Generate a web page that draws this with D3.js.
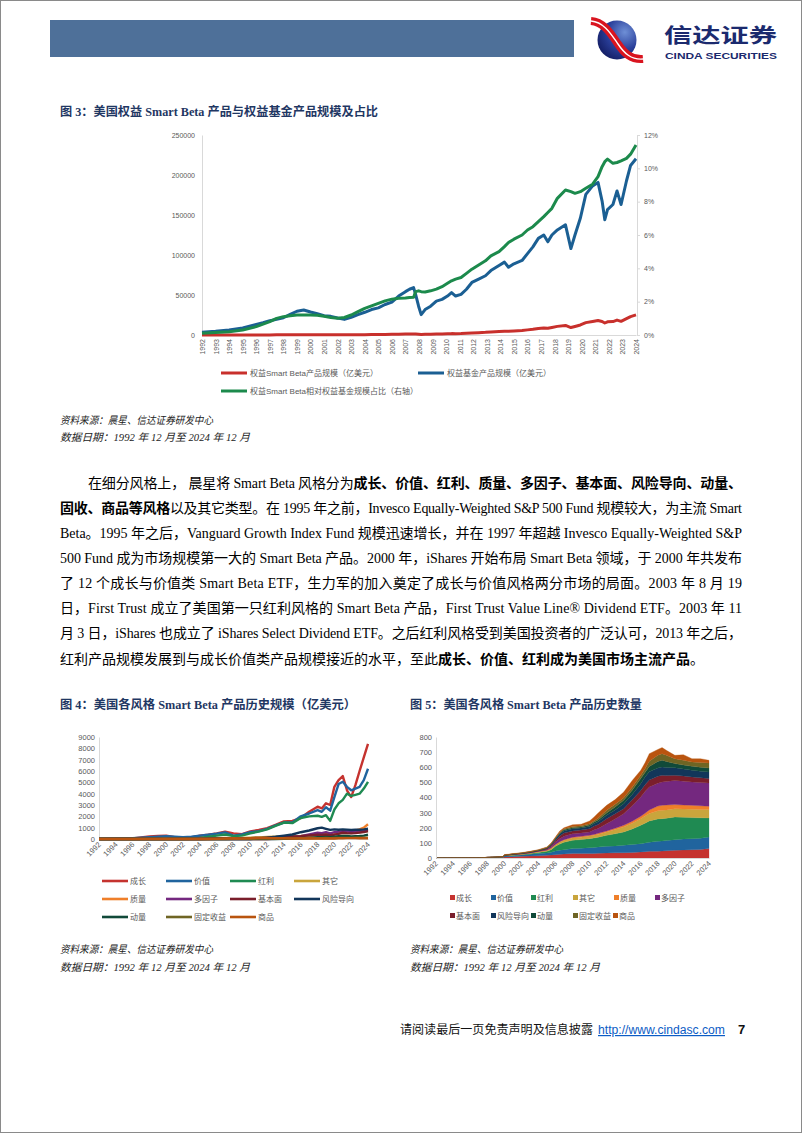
<!DOCTYPE html>
<html><head><meta charset="utf-8">
<script src="https://cdn.jsdelivr.net/npm/d3@7"></script>
<style>body{margin:0;background:#fff}svg{display:block}</style>
</head><body>
<svg id="page" width="802" height="1133"></svg>
<script>
// ---------------- DATA ----------------
// Figure 3
const f3Names = ["权益Smart Beta产品规模（亿美元）","权益基金产品规模（亿美元）","权益Smart Beta相对权益基金规模占比（右轴）"];
const f3Years = [1992,1993,1994,1995,1996,1996.5,1997,1997.5,1998,1998.5,1999,1999.5,2000,2000.5,2001,2001.5,2002,2002.5,2003,2003.5,2004,2004.5,2005,2005.5,2006,2006.5,2007,2007.3,2007.6,2007.75,2007.97,2008.16,2008.45,2008.86,2009.28,2009.7,2010.1,2010.4,2010.7,2011.1,2011.5,2011.9,2012.4,2012.9,2013.3,2013.9,2014.3,2014.6,2015.0,2015.6,2016.0,2016.4,2016.8,2017.2,2017.5,2017.8,2018.2,2018.8,2019.2,2019.5,2019.9,2020.3,2020.8,2021.2,2021.5,2021.7,2021.9,2022.3,2022.6,2022.9,2023.3,2023.6,2024.0];
const smartBetaAUM = [20,30,40,60,90,100,140,190,230,290,350,370,350,320,270,245,210,205,260,350,450,560,640,780,880,1070,1200,1290,1350,1320,950,660,820,950,1170,1290,1510,1720,1630,1750,2120,2600,2940,3300,3820,4350,4830,4700,5120,5590,6400,7160,8200,8880,8560,9500,10770,11980,9290,10630,12570,15470,16870,18120,16900,14990,16540,16800,18640,17040,20440,22990,25100];
const equityFundAUM = [3400,4700,6400,8900,13100,15300,17800,19500,21600,25800,29700,31300,28800,26700,24200,23300,21200,19500,22000,25400,28400,31800,33900,38100,41100,48700,54200,57200,59300,50800,36000,25400,31800,36000,42400,44500,48700,53000,48700,50800,57200,65700,69900,74100,80500,86900,91100,84700,89000,93200,101700,110200,120800,125000,116500,125000,131300,137700,108000,125000,146200,175800,186400,190700,167400,144100,156800,163100,180100,163100,192800,211900,220300];
const shareRatio = [0.10,0.15,0.20,0.30,0.50,0.65,0.80,1.00,1.10,1.15,1.20,1.20,1.20,1.18,1.12,1.05,1.00,1.05,1.20,1.40,1.60,1.75,1.90,2.05,2.15,2.20,2.22,2.25,2.27,2.60,2.65,2.60,2.58,2.65,2.75,2.90,3.10,3.25,3.35,3.45,3.70,3.95,4.20,4.45,4.75,5.00,5.30,5.55,5.75,6.00,6.30,6.50,6.80,7.10,7.35,7.60,8.20,8.70,8.60,8.50,8.60,8.80,9.05,9.50,10.10,10.40,10.55,10.30,10.35,10.45,10.60,10.85,11.40];
const f3LeftTicks = [0,50000,100000,150000,200000,250000];
const f3RightTicks = [0,2,4,6,8,10,12];
const f3YearTicks = d3.range(1992,2025);

// Figures 4 & 5
const styleNames = ["成长","价值","红利","其它","质量","多因子","基本面","风险导向","动量","固定收益","商品"];
const styleColors = ["#c5332f","#20649e","#1f8a52","#c9a53c","#ef7f2a","#74287f","#7a1e2b","#12365a","#114a39","#6f6524","#b9540f"];
const f4Years = [1992,1994,1996,1998,1999,2000,2001,2002,2003,2004,2005,2006,2007,2008,2009,2010,2011,2012,2013,2014,2015,2016,2017,2018,2018.5,2019,2019.5,2020,2020.5,2021,2021.5,2022,2022.5,2023,2023.5,2024];
const aumGrowth   = [10,20,60,230,280,290,150,90,130,290,380,500,650,500,430,670,800,950,1250,1550,1600,1850,2400,2850,2700,3150,3000,4600,5200,5550,4300,3700,4750,6000,7200,8400];
const aumValue    = [20,40,60,150,200,250,200,150,200,300,380,470,580,300,400,600,700,900,1200,1450,1450,2000,2250,2550,2400,2800,2500,3700,4850,5050,4600,4300,4450,4600,5200,6200];
const aumDividend = [0,0,0,0,0,0,0,0,20,100,200,300,400,250,300,500,650,850,1150,1450,1400,1850,2000,2050,1950,2100,1600,2600,3150,3450,4000,3800,3900,4000,4450,5050];
const aumOther    = [5,5,5,10,10,20,20,20,30,40,60,80,100,80,90,120,140,170,200,230,250,280,330,380,380,400,380,450,500,550,520,520,560,600,650,700];
const aumQuality  = [0,0,0,0,0,0,0,0,0,0,0,0,0,0,0,0,0,0,50,80,100,150,250,350,350,400,350,500,600,700,650,650,750,850,1000,1300];
const aumMulti    = [0,0,0,0,0,0,0,0,0,0,0,0,0,0,0,0,0,0,20,60,150,250,400,550,520,600,500,600,650,700,680,620,650,680,720,800];
const aumFundam   = [0,0,0,0,0,0,0,0,0,0,20,40,60,40,50,80,100,120,160,200,220,250,320,380,350,400,330,380,450,550,520,500,520,560,620,700];
const aumRisk     = [0,0,0,0,0,0,0,0,0,0,0,0,0,0,0,0,50,120,200,300,400,600,750,950,1000,900,800,850,820,850,830,800,820,820,850,900];
const aumMomentum = [0,0,0,0,0,0,0,0,0,0,0,0,0,0,0,0,0,0,0,20,40,60,100,150,150,180,150,200,250,280,260,220,240,260,300,380];
const aumFixed    = [0,0,0,0,0,0,0,0,0,0,0,0,0,10,15,20,30,40,45,50,55,60,70,80,80,85,80,90,95,100,100,100,105,110,115,120];
const aumCommod   = [0,0,0,0,0,0,0,0,0,0,0,20,40,60,50,70,100,90,70,60,50,55,50,50,50,50,40,50,60,70,80,80,75,70,65,60];
const f4LeftTicks = d3.range(0,9001,1000);

const f5Years = [1992,1997,1998,1999,1999.9,2000,2001,2002,2003,2004,2005,2005.5,2006,2006.5,2007,2008,2009,2010,2010.5,2011,2012,2013,2014,2015,2016,2016.5,2017,2018,2018.5,2019,2020,2021,2022,2023,2024];
const cntGrowth   = [0,1,2,3,4,7,9,11,13,15,18,20,22,24,26,29,29,29,30,31,33,34,35,37,40,42,44,45,46,48,51,53,55,57,62];
const cntValue    = [0,0,1,2,3,7,7,9,11,14,15,18,24,28,29,33,36,39,40,41,44,46,49,52,55,58,60,65,66,67,70,72,73,73,77];
const cntDividend = [0,0,0,0,1,2,3,3,5,8,11,17,31,40,49,55,57,60,62,65,73,80,88,103,121,130,141,148,148,148,150,144,139,136,126];
const cntOther    = [0,0,1,1,1,2,3,3,3,5,7,9,11,13,13,15,16,17,18,19,22,28,33,38,44,48,50,54,55,55,55,55,55,55,55];
const cntQuality  = [0,0,0,0,0,0,0,0,1,1,1,2,2,3,4,5,5,5,6,7,7,8,11,13,16,18,23,31,33,32,27,26,26,24,22];
const cntMulti    = [0,0,0,0,0,0,1,2,2,3,5,10,16,19,22,24,23,22,29,32,48,62,77,102,127,144,152,152,154,155,160,158,154,154,154];
const cntFundam   = [0,0,0,0,0,0,1,2,2,2,5,8,11,18,22,18,19,22,25,27,33,34,33,40,44,45,45,45,45,40,34,34,34,31,29];
const cntRisk     = [0,0,0,0,0,0,1,1,2,2,3,5,9,13,14,15,13,15,16,18,22,26,33,35,44,50,55,55,55,53,50,46,44,44,44];
const cntMomentum = [0,0,0,0,0,1,1,1,1,1,2,3,4,6,8,6,7,9,10,12,16,20,22,28,34,30,35,43,44,40,27,27,26,26,26];
const cntFixed    = [0,0,0,0,0,0,1,1,2,2,3,4,4,6,7,9,9,9,9,10,17,18,18,20,22,25,35,42,44,42,33,31,29,32,33];
const cntCommod   = [0,0,0,1,1,3,2,2,2,2,3,4,5,8,6,11,9,18,25,35,33,30,37,45,33,40,50,38,40,32,22,37,22,25,18];
const f5LeftTicks = d3.range(0,801,100);
const evenYears = d3.range(1992,2025,2);

// ---------------- DRAWING ----------------
const svg = d3.select("#page");
const SERIF = "'Liberation Serif','Times New Roman','Noto Sans CJK SC',serif";
const SANS = "'Liberation Sans',Arial,'Noto Sans CJK SC',sans-serif";
const CJK = "'Noto Sans CJK SC',sans-serif";
const GREY = "#595959";

function txt(x,y,s,o={}){
  const t = svg.append("text").attr("x",x).attr("y",y).text(s)
    .attr("font-family",o.family||SERIF).attr("font-size",o.size||12)
    .attr("fill",o.fill||"#000");
  if(o.weight) t.attr("font-weight",o.weight);
  if(o.style) t.attr("font-style",o.style);
  if(o.anchor) t.attr("text-anchor",o.anchor);
  if(o.len) t.attr("textLength",o.len).attr("lengthAdjust","spacingAndGlyphs");
  if(o.deco) t.attr("text-decoration",o.deco);
  return t;
}

// page border
svg.append("rect").attr("x",0.5).attr("y",0.5).attr("width",801).attr("height",1132)
  .attr("fill","none").attr("stroke","#8a8a8a").attr("stroke-width",1);

// header
svg.append("rect").attr("x",50).attr("y",20).attr("width",524).attr("height",37).attr("fill","#4e7099");
const defs = svg.append("defs");
const rg = defs.append("radialGradient").attr("id","lg").attr("cx","70%").attr("cy","30%").attr("r","80%");
rg.append("stop").attr("offset","0%").attr("stop-color","#6e8fd6");
rg.append("stop").attr("offset","55%").attr("stop-color","#2a3f9a");
rg.append("stop").attr("offset","100%").attr("stop-color","#131d63");
svg.append("circle").attr("cx",617).attr("cy",40).attr("r",19.5).attr("fill","url(#lg)");
svg.append("path").attr("d","M591,21 C604,22 611,34 618,44 C624,53 631,60 643,59")
  .attr("fill","none").attr("stroke","#d9141f").attr("stroke-width",8);
svg.append("path").attr("d","M591,21 C604,22 611,34 618,44 C624,53 631,60 643,59")
  .attr("fill","none").attr("stroke","#fff").attr("stroke-width",1.4);
txt(664,43,"信达证券",{family:CJK,size:20,weight:700,fill:"#1b2a6e",len:113});
txt(665,58.5,"CINDA SECURITIES",{family:SANS,size:8.5,weight:700,fill:"#1b2a6e",len:112});

// ---------- Figure 3 ----------
const TITLE = "#1f3763";
txt(60,116,"图 3：美国权益 Smart Beta 产品与权益基金产品规模及占比",{size:12,weight:700,fill:TITLE,len:318});

const x3 = d3.scaleLinear().domain([1992,2024]).range([202,636]);
const y3L = d3.scaleLinear().domain([0,250000]).range([335,135]);
const y3R = d3.scaleLinear().domain([0,12]).range([335,135]);

const g3 = svg.append("g");
const axL = g3.append("g").attr("transform","translate(202,0)")
  .call(d3.axisLeft(y3L).tickValues(f3LeftTicks).tickSize(0).tickPadding(7).tickFormat(d3.format("d")));
const axR = g3.append("g").attr("transform","translate(637,0)")
  .call(d3.axisRight(y3R).tickValues(f3RightTicks).tickSize(3).tickPadding(4).tickFormat(d=>d+"%"));
const axB = g3.append("g").attr("transform","translate(0,335)")
  .call(d3.axisBottom(x3).tickValues(f3YearTicks).tickSize(0).tickFormat(d3.format("d")));
axB.selectAll("text").attr("transform","rotate(-90)").attr("text-anchor","end")
  .attr("x",-4).attr("y",0).attr("dy","0.35em");
[axL,axR,axB].forEach(a=>{
  a.selectAll("path.domain").attr("stroke","#d9d9d9");
  a.selectAll("line").attr("stroke","#d9d9d9");
  a.selectAll("text").attr("font-family",SANS).attr("font-size",7).attr("fill",GREY);
});

const f3Colors = ["#c8302c","#1b5f93","#1c8a4c"];
const lineL = d3.line().x((d,i)=>x3(f3Years[i])).y(d=>y3L(d));
const lineR = d3.line().x((d,i)=>x3(f3Years[i])).y(d=>y3R(d));
g3.append("path").attr("d",lineL(smartBetaAUM)).attr("fill","none").attr("stroke",f3Colors[0]).attr("stroke-width",3).attr("stroke-linejoin","round");
g3.append("path").attr("d",lineL(equityFundAUM)).attr("fill","none").attr("stroke",f3Colors[1]).attr("stroke-width",3).attr("stroke-linejoin","round");
g3.append("path").attr("d",lineR(shareRatio)).attr("fill","none").attr("stroke",f3Colors[2]).attr("stroke-width",3).attr("stroke-linejoin","round");

// legend fig 3
const leg3 = [[221,373],[418,373],[221,391]];
f3Names.forEach((n,i)=>{
  svg.append("line").attr("x1",leg3[i][0]).attr("x2",leg3[i][0]+26).attr("y1",leg3[i][1]).attr("y2",leg3[i][1])
    .attr("stroke",f3Colors[i]).attr("stroke-width",3);
  txt(leg3[i][0]+29,leg3[i][1]+3,n,{family:SANS,size:8,fill:GREY});
});

const SRC = {size:10.5,style:"italic",fill:"#222"};
txt(60,424,"资料来源：晨星、信达证券研发中心",Object.assign({len:153},SRC));
txt(60,441,"数据日期：1992 年 12 月至 2024 年 12 月",Object.assign({len:190},SRC));

// ---------- Paragraph ----------
const paraLines = [
  {x:88,y:488,len:654,segs:[["在细分风格上， 晨星将 Smart Beta 风格分为",0],["成长、价值、红利、质量、多因子、基本面、风险导向、动量、",1]]},
  {x:60,y:513,len:682,segs:[["固收、商品等风格",1],["以及其它类型。在 1995 年之前，Invesco Equally-Weighted S&P 500 Fund 规模较大，为主流 Smart",0]]},
  {x:60,y:538,len:682,segs:[["Beta。1995 年之后，Vanguard Growth Index Fund 规模迅速增长，并在 1997 年超越 Invesco Equally-Weighted S&P",0]]},
  {x:60,y:563,len:682,segs:[["500 Fund 成为市场规模第一大的 Smart Beta 产品。2000 年，iShares 开始布局 Smart Beta 领域，于 2000 年共发布",0]]},
  {x:60,y:588,len:682,segs:[["了 12 个成长与价值类 Smart Beta ETF，生力军的加入奠定了成长与价值风格两分市场的局面。2003 年 8 月 19",0]]},
  {x:60,y:613,len:682,segs:[["日，First Trust 成立了美国第一只红利风格的 Smart Beta 产品，First Trust Value Line® Dividend ETF。2003 年 11",0]]},
  {x:60,y:638,len:682,segs:[["月 3 日，iShares 也成立了 iShares Select Dividend ETF。之后红利风格受到美国投资者的广泛认可，2013 年之后，",0]]},
  {x:60,y:664,len:null,segs:[["红利产品规模发展到与成长价值类产品规模接近的水平，至此",0],["成长、价值、红利成为美国市场主流产品",1],["。",0]]}
];
paraLines.forEach(l=>{
  const t = svg.append("text").attr("x",l.x).attr("y",l.y)
    .attr("font-family",SERIF).attr("font-size",14).attr("fill","#000");
  l.segs.forEach(s=>{ t.append("tspan").text(s[0]).attr("font-weight",s[1]?700:400); });
  if(l.len) t.attr("textLength",l.len).attr("lengthAdjust","spacing");
});

// ---------- Figure 4 ----------
txt(60,709,"图 4：美国各风格 Smart Beta 产品历史规模（亿美元）",{size:12,weight:700,fill:TITLE,len:296});
const x4 = d3.scaleLinear().domain([1992,2024]).range([99,368]);
const y4 = d3.scaleLinear().domain([0,9000]).range([839,737]);
const g4 = svg.append("g");
const a4L = g4.append("g").attr("transform","translate(99,0)")
  .call(d3.axisLeft(y4).tickValues(f4LeftTicks).tickSize(0).tickPadding(4).tickFormat(d3.format("d")));
const a4B = g4.append("g").attr("transform","translate(0,839)")
  .call(d3.axisBottom(x4).tickValues(evenYears).tickSize(0).tickFormat(d3.format("d")));
a4B.selectAll("text").attr("transform","rotate(-45)").attr("text-anchor","end")
  .attr("x",-3).attr("y",3).attr("dy","0.35em");
[a4L,a4B].forEach(a=>{
  a.selectAll("path.domain").attr("stroke","#d9d9d9");
  a.selectAll("text").attr("font-family",SANS).attr("font-size",7.5).attr("fill",GREY);
});
const aumSeries = [aumGrowth,aumValue,aumDividend,aumOther,aumQuality,aumMulti,aumFundam,aumRisk,aumMomentum,aumFixed,aumCommod];
const line4 = d3.line().x((d,i)=>x4(f4Years[i])).y(d=>y4(d));
aumSeries.forEach((s,i)=>{
  g4.append("path").attr("d",line4(s)).attr("fill","none").attr("stroke",styleColors[i])
    .attr("stroke-width",2.4).attr("stroke-linejoin","round");
});
const leg4Cols = [102,166,230,294], leg4Rows = [881,899,917];
styleNames.forEach((n,i)=>{
  const x = leg4Cols[i%4], y = leg4Rows[Math.floor(i/4)];
  svg.append("line").attr("x1",x).attr("x2",x+26).attr("y1",y).attr("y2",y)
    .attr("stroke",styleColors[i]).attr("stroke-width",2.6);
  txt(x+28,y+3,n,{family:SANS,size:8,fill:GREY});
});
txt(60,953,"资料来源：晨星、信达证券研发中心",Object.assign({len:153},SRC));
txt(60,971,"数据日期：1992 年 12 月至 2024 年 12 月",Object.assign({len:190},SRC));

// ---------- Figure 5 ----------
txt(410,709,"图 5：美国各风格 Smart Beta 产品历史数量",{size:12,weight:700,fill:TITLE,len:232});
const x5 = d3.scaleLinear().domain([1992,2024]).range([436,709]);
const y5 = d3.scaleLinear().domain([0,800]).range([858,737]);
const g5 = svg.append("g");
const cntSeries = [cntGrowth,cntValue,cntDividend,cntOther,cntQuality,cntMulti,cntFundam,cntRisk,cntMomentum,cntFixed,cntCommod];
const table5 = f5Years.map((yr,i)=>{ const o={year:yr}; styleNames.forEach((k,j)=>o[k]=cntSeries[j][i]); return o; });
const stacked = d3.stack().keys(styleNames)(table5);
const area5 = d3.area().x(d=>x5(d.data.year)).y0(d=>y5(d[0])).y1(d=>y5(d[1]));
stacked.forEach((s,i)=>{
  g5.append("path").attr("d",area5(s)).attr("fill",styleColors[i]).attr("stroke",styleColors[i]).attr("stroke-width",0.3);
});
const a5L = g5.append("g").attr("transform","translate(436,0)")
  .call(d3.axisLeft(y5).tickValues(f5LeftTicks).tickSize(0).tickPadding(4).tickFormat(d3.format("d")));
const a5B = g5.append("g").attr("transform","translate(0,858)")
  .call(d3.axisBottom(x5).tickValues(evenYears).tickSize(0).tickFormat(d3.format("d")));
a5B.selectAll("text").attr("transform","rotate(-45)").attr("text-anchor","end")
  .attr("x",-3).attr("y",3).attr("dy","0.35em");
[a5L,a5B].forEach(a=>{
  a.selectAll("path.domain").attr("stroke","#d9d9d9");
  a.selectAll("text").attr("font-family",SANS).attr("font-size",7.5).attr("fill",GREY);
});
const leg5 = [[450,898],[491,898],[531,898],[573,898],[614,898],[655,898],[450,916],[491,916],[531,916],[573,916],[613,916]];
styleNames.forEach((n,i)=>{
  svg.append("rect").attr("x",leg5[i][0]).attr("y",leg5[i][1]-3).attr("width",5).attr("height",5).attr("fill",styleColors[i]);
  txt(leg5[i][0]+6,leg5[i][1]+3,n,{family:SANS,size:8,fill:GREY});
});
txt(410,953,"资料来源：晨星、信达证券研发中心",Object.assign({len:153},SRC));
txt(410,971,"数据日期：1992 年 12 月至 2024 年 12 月",Object.assign({len:190},SRC));

// ---------- Footer ----------
txt(400,1034,"请阅读最后一页免责声明及信息披露",{size:12,fill:"#111",len:193});
txt(598,1034,"http://www.cindasc.com",{family:SANS,size:12,fill:"#0b5cc5",deco:"underline",len:127});
txt(738,1034,"7",{family:SANS,size:13,weight:700,fill:"#111"});
</script>
</body></html>
